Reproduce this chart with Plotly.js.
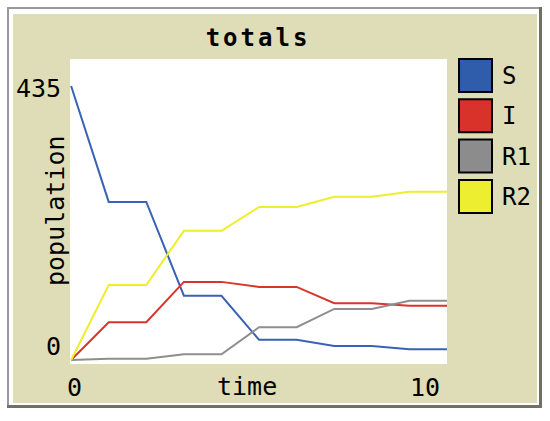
<!DOCTYPE html>
<html>
<head>
<meta charset="utf-8">
<script src="https://cdn.plot.ly/plotly-3.0.1.min.js"></script>
<style>
  html, body { margin: 0; padding: 0; background: #ffffff; }
  #plot { width: 550px; height: 421px; }
</style>
</head>
<body>
<div id="plot"></div>
<script>
// ------------------------------------------------------------------------------
// DATA

const time   = [0, 1, 2, 3, 4, 5, 6, 7, 8, 9, 10];
const pop_S  = [435, 251, 251, 102, 102, 32, 32, 22, 22, 17, 17];
const pop_I  = [0, 60, 60, 124, 124, 116, 116, 90, 90, 86, 86];
const pop_R1 = [0, 2, 2, 9, 9, 52, 52, 81, 81, 94, 94];
const pop_R2 = [0, 119, 119, 205, 205, 243, 243, 259, 259, 267, 267];

const series_names  = ['S', 'I', 'R1', 'R2'];
const series_values = [pop_S, pop_I, pop_R1, pop_R2];
const line_colors   = ['#3a62b4', '#d9342b', '#8e8e8e', '#eeee2a'];
const swatch_colors = ['#2f5cab', '#d9322a', '#8c8c8c', '#eeee30'];

const y_tick_labels = ['435', '0'];
const x_tick_labels = ['0', '10'];

// ------------------------------------------------------------------------------
// PARAMETERS

const font_mono = '"DejaVu Sans Mono", "Liberation Mono", monospace';
const khaki     = '#dfddb7';

// plot area in page pixels
const plot_l = 70, plot_r = 447, plot_t = 59, plot_b = 364;

function px(x) { return (x - plot_l) / (plot_r - plot_l); }
function py(y) { return (plot_b - y) / (plot_b - plot_t); }

function paperRect(x0, y0, x1, y1, fill, line) {
    return {
        type: 'rect', xref: 'paper', yref: 'paper', layer: 'below',
        x0: px(x0), x1: px(x1), y0: py(y1), y1: py(y0),
        fillcolor: fill,
        line: line || { width: 0 }
    };
}

function label(text, x, y, xanchor, size, angle) {
    return {
        text: text, xref: 'paper', yref: 'paper',
        x: px(x), y: py(y), xanchor: xanchor, yanchor: 'middle',
        showarrow: false, textangle: angle || 0,
        font: { family: font_mono, size: size, color: '#000000' }
    };
}

// ------------------------------------------------------------------------------
// TRACES

const traces = series_names.map((name, i) => ({
    x: time,
    y: series_values[i],
    name: name,
    type: 'scatter',
    mode: 'lines',
    line: { color: line_colors[i], width: 2 },
    showlegend: false,
    hoverinfo: 'none'
}));

// ------------------------------------------------------------------------------
// PANEL, LEGEND AND LABELS

const shapes = [
    paperRect(7, 7, 542, 408, '#707069'),
    paperRect(7, 7, 539, 405, '#999999'),
    paperRect(9, 9, 539, 405, '#ffffff'),
    paperRect(13, 14, 537, 403, khaki),
    paperRect(plot_l, plot_t, plot_r, plot_b, '#ffffff')
];

const annotations = [
    label(y_tick_labels[0], 63, 88, 'right', 25),
    label(y_tick_labels[1], 63, 346, 'right', 25),
    label(x_tick_labels[0], 74, 387, 'center', 25),
    label(x_tick_labels[1], 425, 387, 'center', 25),
    label('time', 247, 386, 'center', 25),
    label('population', 55, 211, 'center', 25, -90)
];

series_names.forEach((name, i) => {
    const top = 59 + i * 40.3;
    shapes.push(paperRect(459, top, 492, top + 33, swatch_colors[i],
        { color: '#000000', width: 2 }));
    annotations.push(label(name, 500, top + 17, 'left', 24));
});

const layout = {
    width: 550,
    height: 421,
    paper_bgcolor: '#ffffff',
    plot_bgcolor: '#ffffff',
    margin: { l: plot_l, r: 550 - plot_r, t: plot_t, b: 421 - plot_b, pad: 0 },
    title: {
        text: '<b>totals</b>',
        x: px(258), xref: 'paper', xanchor: 'center',
        y: 1 - 38 / 421, yanchor: 'middle',
        font: { family: font_mono, size: 24, color: '#000000' }
    },
    xaxis: {
        range: [-0.03, 10],
        showgrid: false, zeroline: false, showline: false,
        showticklabels: false, ticks: ''
    },
    yaxis: {
        range: [-6.4, 477.9],
        showgrid: false, zeroline: false, showline: false,
        showticklabels: false, ticks: ''
    },
    shapes: shapes,
    annotations: annotations
};

Plotly.newPlot('plot', traces, layout, { displayModeBar: false, staticPlot: true })
    .then(gd => {
        // the original title is spaced out letter by letter
        const t = gd.querySelector('.gtitle');
        if (t) t.setAttribute('letter-spacing', '3px');
    });
</script>
</body>
</html>
